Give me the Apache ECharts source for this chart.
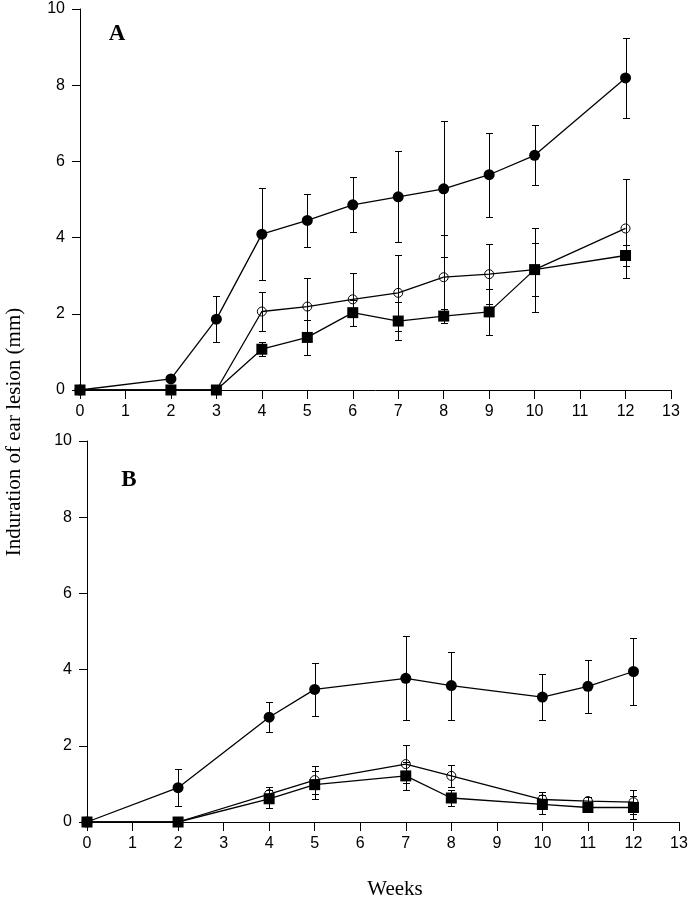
<!DOCTYPE html>
<html><head><meta charset="utf-8">
<script src="https://cdn.jsdelivr.net/npm/echarts@6/dist/echarts.min.js"></script>
<style>html,body{margin:0;padding:0;background:#fff}#c{width:692px;height:900px}</style>
</head><body><div id="c"></div>
<script>
// Panel A
const weeksA = [0, 2, 3, 4, 5, 6, 7, 8, 9, 10, 12];
const aFilled   = [0, 0.29, 1.86, 4.09, 4.45, 4.86, 5.07, 5.28, 5.65, 6.16, 8.19];
const aFilledSD = [0, 0, 0.6, 1.2, 0.69, 0.72, 1.19, 1.79, 1.1, 0.79, 1.04];
const aOpen     = [0, 0, 0, 2.06, 2.19, 2.38, 2.55, 2.96, 3.04, 3.16, 4.24];
const aOpenSD   = [0, 0, 0, 0.52, 0.76, 0.69, 0.99, 1.12, 0.79, 1.1, 1.31];
const aSquare   = [0, 0, 0, 1.07, 1.38, 2.03, 1.81, 1.94, 2.05, 3.16, 3.53];
const aSquareSD = [0, 0, 0, 0.19, 0.47, 0.34, 0.5, 0.19, 0.6, 0.69, 0.28];
// Panel B
const weeksB = [0, 2, 4, 5, 7, 8, 10, 11, 12];
const bFilled   = [0, 0.9, 2.75, 3.48, 3.77, 3.58, 3.28, 3.56, 3.95];
const bFilledSD = [0, 0.48, 0.4, 0.69, 1.1, 0.89, 0.6, 0.69, 0.89];
const bOpen     = [0, 0, 0.73, 1.1, 1.52, 1.21, 0.59, 0.55, 0.52];
const bOpenSD   = [0, 0, 0.2, 0.37, 0.5, 0.28, 0.2, 0.1, 0.31];
const bSquare   = [0, 0, 0.61, 0.98, 1.21, 0.63, 0.46, 0.38, 0.38];
const bSquareSD = [0, 0, 0.23, 0.37, 0.37, 0.2, 0.26, 0.05, 0.31];

const xMin = 0, xMax = 13, xStep = 1;
const yMin = 0, yMax = 10, yStep = 2;
const yTitle = 'Induration of ear lesion (mm)';
const xTitle = 'Weeks';
const panelLabels = ['A', 'B'];

const SANS = '"Liberation Sans", Arial, sans-serif';
const SERIF = '"Liberation Serif", "Times New Roman", serif';

function pairs(xs, ys) { return xs.map((x, i) => [x, ys[i]]); }
function errData(xs, ys, sd) { return xs.map((x, i) => [x, ys[i], sd[i]]).filter(d => d[2] > 0); }

function errSeries(gi, data) {
  return {
    type: 'custom', xAxisIndex: gi, yAxisIndex: gi, data: data, z: 1, silent: true,
    renderItem: function (params, api) {
      const x = api.value(0), y = api.value(1), e = api.value(2);
      const t = api.coord([x, y + e]), b = api.coord([x, y - e]);
      const cx = Math.round(t[0]) + 0.5;
      const ty = Math.round(t[1]) + 0.5, by = Math.round(b[1]) + 0.5;
      const w = 3.5;
      const st = { stroke: '#000', lineWidth: 1 };
      return { type: 'group', children: [
        { type: 'line', shape: { x1: cx, y1: ty, x2: cx, y2: by }, style: st },
        { type: 'line', shape: { x1: cx - w, y1: ty, x2: cx + w, y2: ty }, style: st },
        { type: 'line', shape: { x1: cx - w, y1: by, x2: cx + w, y2: by }, style: st }
      ]};
    }
  };
}

function lineSeries(gi, xs, ys, kind) {
  const s = { type: 'line', xAxisIndex: gi, yAxisIndex: gi, data: pairs(xs, ys), z: 3, silent: true,
    lineStyle: { color: '#000', width: 1.3 } };
  if (kind === 'filled') { s.symbol = 'circle'; s.symbolSize = 11; s.itemStyle = { color: '#000' }; s.z = 3; }
  if (kind === 'open') { s.symbol = 'circle'; s.symbolSize = 9; s.itemStyle = { color: 'rgba(255,255,255,0)', borderColor: '#000', borderWidth: 1 }; s.z = 4; }
  if (kind === 'square') { s.symbol = 'rect'; s.symbolSize = 11; s.itemStyle = { color: '#000' }; s.z = 5; }
  return s;
}

function xAxis(gi) {
  return { gridIndex: gi, type: 'value', min: xMin, max: xMax, interval: xStep,
    axisLine: { show: true, onZero: false, lineStyle: { color: '#000', width: 1 } },
    axisTick: { show: true, length: 9, lineStyle: { color: '#000', width: 1 } },
    axisLabel: { color: '#000', fontSize: 16, fontFamily: SANS, margin: 14 },
    splitLine: { show: false } };
}
function yAxis(gi) {
  return { gridIndex: gi, type: 'value', min: yMin, max: yMax, interval: yStep,
    axisLine: { show: true, onZero: false, lineStyle: { color: '#000', width: 1 } },
    axisTick: { show: true, length: 8, lineStyle: { color: '#000', width: 1 } },
    axisLabel: { color: '#000', fontSize: 16, fontFamily: SANS, margin: 15 },
    splitLine: { show: false } };
}

const chart = echarts.init(document.getElementById('c'));
chart.setOption({
  animation: false,
  backgroundColor: '#fff',
  grid: [
    { left: 80, top: 9, width: 591, height: 381, containLabel: false, outerBoundsMode: 'none' },
    { left: 87, top: 441, width: 592, height: 381, containLabel: false, outerBoundsMode: 'none' }
  ],
  xAxis: [xAxis(0), xAxis(1)],
  yAxis: [yAxis(0), yAxis(1)],
  series: [
    errSeries(0, errData(weeksA, aFilled, aFilledSD)),
    errSeries(0, errData(weeksA, aOpen, aOpenSD)),
    errSeries(0, errData(weeksA, aSquare, aSquareSD)),
    lineSeries(0, weeksA, aFilled, 'filled'),
    lineSeries(0, weeksA, aOpen, 'open'),
    lineSeries(0, weeksA, aSquare, 'square'),
    errSeries(1, errData(weeksB, bFilled, bFilledSD)),
    errSeries(1, errData(weeksB, bOpen, bOpenSD)),
    errSeries(1, errData(weeksB, bSquare, bSquareSD)),
    lineSeries(1, weeksB, bFilled, 'filled'),
    lineSeries(1, weeksB, bOpen, 'open'),
    lineSeries(1, weeksB, bSquare, 'square')
  ],
  graphic: [
    { type: 'text', x: 14, y: 432, rotation: Math.PI / 2,
      style: { text: yTitle, font: '21px ' + SERIF, fill: '#000', align: 'center', verticalAlign: 'middle' } },
    { type: 'text', x: 395, y: 889,
      style: { text: xTitle, font: '21px ' + SERIF, fill: '#000', align: 'center', verticalAlign: 'middle' } },
    { type: 'text', x: 117, y: 34,
      style: { text: panelLabels[0], font: 'bold 23px ' + SERIF, fill: '#000', align: 'center', verticalAlign: 'middle' } },
    { type: 'text', x: 129, y: 480,
      style: { text: panelLabels[1], font: 'bold 23px ' + SERIF, fill: '#000', align: 'center', verticalAlign: 'middle' } }
  ]
});
</script>
</body></html>
